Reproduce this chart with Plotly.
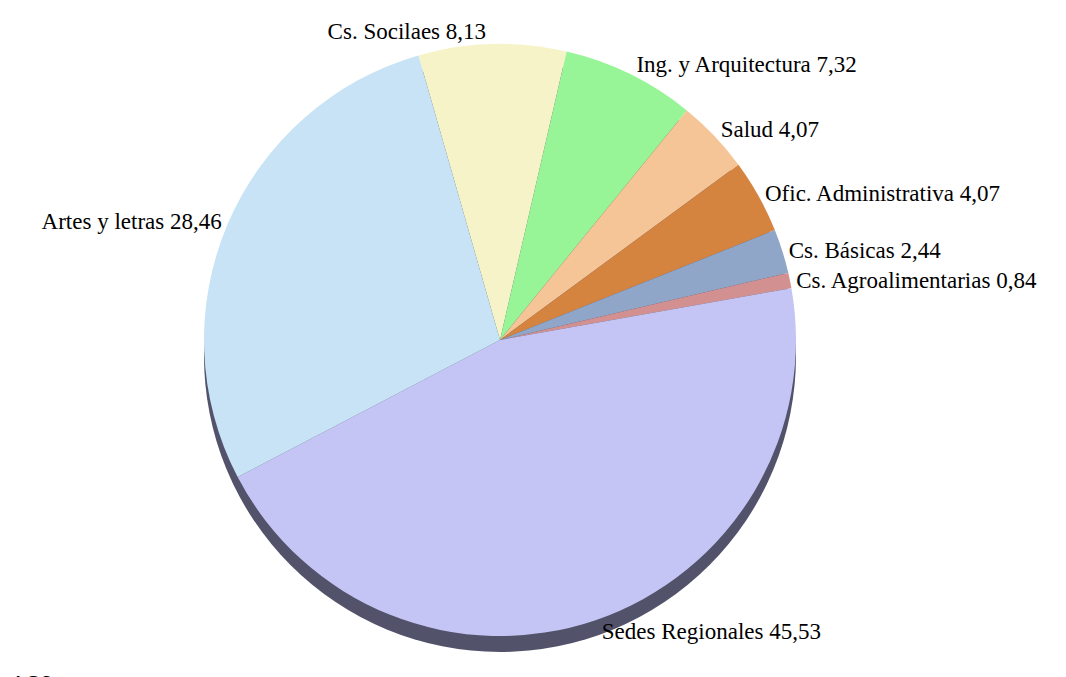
import plotly.graph_objects as go

labels = ["Cs. Socilaes", "Ing. y Arquitectura", "Salud", "Ofic. Administrativa",
          "Cs. Básicas", "Cs. Agroalimentarias", "Sedes Regionales", "Artes y letras"]
values = [8.13, 7.32, 4.07, 4.07, 2.44, 0.84, 45.53, 28.46]
colors = ["#f5f3c7", "#98f597", "#f5c597", "#d4843f",
          "#8fa6c9", "#d29090", "#c5c5f5", "#c7e3f5"]

W, H = 1066, 677
# figure coordinates (page body adds an 8px offset)
cx, cy, r = 492, 332, 296

fig = go.Figure()
fig.add_trace(go.Pie(
    labels=labels, values=values, sort=False, direction="clockwise", rotation=-16,
    marker=dict(colors=colors, line=dict(width=0)),
    texttemplate="%{label} %{value:.2f}", textposition="outside",
    textfont=dict(family="Liberation Serif", size=23, color="#000"),
    showlegend=False, hoverinfo="label+value",
    domain=dict(x=[(cx - r) / W, (cx + r) / W], y=[(H - cy - r) / H, (H - cy + r) / H]),
))

# 3D-like edge (shadow beneath the pie)
off = 16
fig.add_shape(type="circle", xref="paper", yref="paper", layer="below",
              x0=(cx - r) / W, x1=(cx + r) / W,
              y0=(H - cy - r - off) / H, y1=(H - cy + r - off) / H,
              fillcolor="#52536a", line=dict(width=0))

fig.add_annotation(text="AS6", xref="paper", yref="paper", x=0.0, y=0.0,
                   xanchor="left", yanchor="top", showarrow=False, yshift=16,
                   font=dict(family="Liberation Serif", size=23, color="#000"))

fig.update_layout(width=W, height=H, margin=dict(l=0, r=0, t=0, b=0),
                  paper_bgcolor="white", plot_bgcolor="white", separators=",.")
fig.write_html("out.html")
